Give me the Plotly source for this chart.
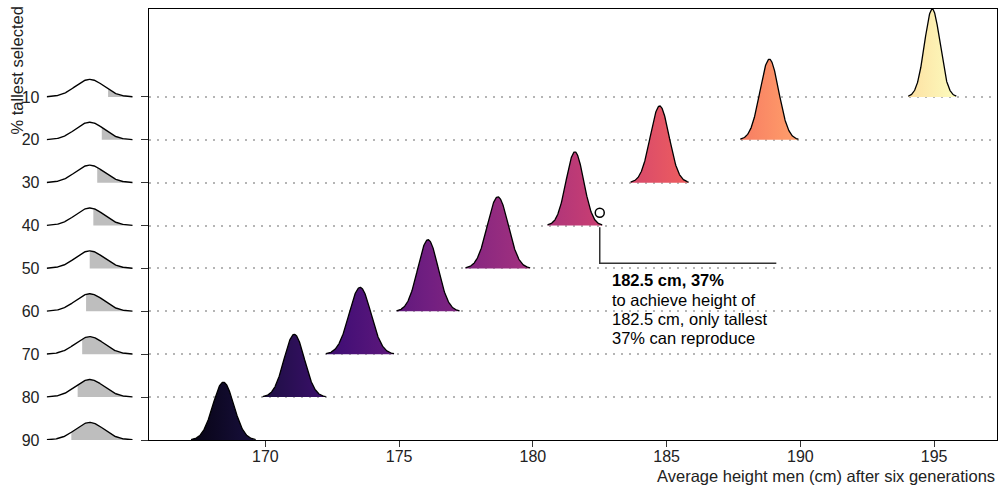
import numpy as np
import plotly.graph_objects as go
import plotly.express as px
from statistics import NormalDist

# ---- data ----
levels = [10, 20, 30, 40, 50, 60, 70, 80, 90]           # % tallest selected
means = [194.93, 188.84, 184.74, 181.57, 178.69, 176.08, 173.54, 171.08, 168.43]
sds = [0.29, 0.35, 0.35, 0.33, 0.39, 0.38, 0.41, 0.38, 0.39]
peak_heights = [20.5, 18.8, 17.9, 17.2, 16.7, 16.7, 15.6, 14.65, 13.5]
x_ticks = [170, 175, 180, 185, 190, 195]
annot_point = (182.5, 37)
annot_lines = ["<b>182.5 cm, 37%</b>", "to achieve height of",
               "182.5 cm, only tallest", "37% can reproduce"]

FONT = "Liberation Sans, Arial, sans-serif"
magma = px.colors.sequential.Magma
magma_scale = [[i / (len(magma) - 1), c] for i, c in enumerate(magma)]

fig = go.Figure()

def npdf(z):
    return np.exp(-0.5 * z ** 2)

# ---- main ridgelines ----
for lev, m, s, h in zip(levels, means, sds, peak_heights):
    z = np.linspace(-3.1, 3.1, 200)
    xs = m + z * s
    ys = lev - h * npdf(z)
    fig.add_trace(go.Scatter(
        x=np.concatenate([xs, xs[::-1]]),
        y=np.concatenate([ys, np.full_like(ys, lev)]),
        mode="lines", fill="toself",
        line=dict(width=0), hoverinfo="skip", showlegend=False,
        fillgradient=dict(type="horizontal", colorscale=magma_scale,
                          start=166.3, stop=195.9),
        xaxis="x", yaxis="y"))
    fig.add_trace(go.Scatter(
        x=xs, y=ys, mode="lines", line=dict(color="black", width=1.3),
        hoverinfo="skip", showlegend=False, xaxis="x", yaxis="y"))

# ---- annotation ----
ax, ay = annot_point
fig.add_trace(go.Scatter(x=[ax], y=[ay], mode="markers",
                         marker=dict(symbol="circle-open", size=9,
                                     color="black", line=dict(width=1.5)),
                         showlegend=False, hoverinfo="skip"))
fig.add_trace(go.Scatter(x=[ax, ax, 189.1], y=[40.4, 48.8, 48.8], mode="lines",
                         line=dict(color="#333333", width=1.5),
                         showlegend=False, hoverinfo="skip"))
for i, t in enumerate(annot_lines):
    fig.add_annotation(x=182.88, y=52.8 + i * 4.5, xref="x", yref="y",
                       text=t, showarrow=False, xanchor="left", yanchor="middle",
                       font=dict(family=FONT, size=16.5, color="black"))

# ---- mini normal curves with shaded tails ----
k = 4.1
zz = np.linspace(-3, 3, 200)
for lev in levels:
    zq = NormalDist().inv_cdf(1 - lev / 100)
    zs = np.concatenate([[zq], zz[zz >= zq]])
    ys = lev - k * npdf(zs)
    fig.add_trace(go.Scatter(
        x=np.concatenate([zs, zs[::-1]]),
        y=np.concatenate([ys, np.full_like(ys, lev)]),
        mode="lines", fill="toself", fillcolor="#bebebe", line=dict(width=0),
        showlegend=False, hoverinfo="skip", xaxis="x2", yaxis="y2"))
    fig.add_trace(go.Scatter(
        x=zz, y=lev - k * npdf(zz), mode="lines",
        line=dict(color="black", width=1.4),
        showlegend=False, hoverinfo="skip", xaxis="x2", yaxis="y2"))

yr = [90, -10.5]
L, R, T, B = 42, 6, 9, 45
W = 1003 - L - R
H = 485 - T - B
main_start = (149 - L) / W
fig.update_layout(
    width=1003, height=485,
    margin=dict(l=L, r=R, t=T, b=B),
    plot_bgcolor="white", paper_bgcolor="white",
    font=dict(family=FONT, size=16, color="#222"),
    xaxis=dict(domain=[main_start, 1], range=[165.65, 197.35],
               tickvals=x_ticks, ticks="outside", ticklen=6, tickcolor="#333",
               ticklabelstandoff=-4,
               showgrid=False, zeroline=False, showline=True, linecolor="black",
               linewidth=1.3, mirror=True, anchor="y",
               tickfont=dict(family=FONT, size=16, color="#222")),
    yaxis=dict(range=yr, tickvals=levels, showticklabels=False,
               ticks="outside", ticklen=7, tickcolor="#333",
               showgrid=True, gridcolor="#b5b5b5", gridwidth=1.5,
               griddash="1.5px,6.5px", zeroline=False, showline=True,
               linecolor="black", linewidth=1.3, mirror=True, anchor="x"),
    xaxis2=dict(domain=[(46.7 - L) / W, (132.7 - L) / W], range=[-3, 3],
                visible=False, anchor="y2"),
    yaxis2=dict(range=yr, tickvals=levels, ticktext=[str(v) for v in levels],
                ticks="outside", ticklen=3, tickcolor="rgba(0,0,0,0)",
                showgrid=False, zeroline=False, showline=False, anchor="x2",
                tickfont=dict(family=FONT, size=16, color="#222")),
)
fig.add_annotation(x=1, y=-36 / H, xref="paper", yref="paper",
                   text="Average height men (cm) after six generations",
                   showarrow=False, xanchor="right", yanchor="middle",
                   font=dict(family=FONT, size=16.5, color="#222"))
fig.add_annotation(x=(16.5 - L) / W, y=(440 - 71) / H, xref="paper", yref="paper",
                   text="% tallest selected", textangle=-90, showarrow=False,
                   xanchor="center", yanchor="middle",
                   font=dict(family=FONT, size=16.5, color="#222"))

fig.write_html("out.html", config={"displayModeBar": False},
               post_script="document.body.style.margin='0';document.body.style.padding='0';")
